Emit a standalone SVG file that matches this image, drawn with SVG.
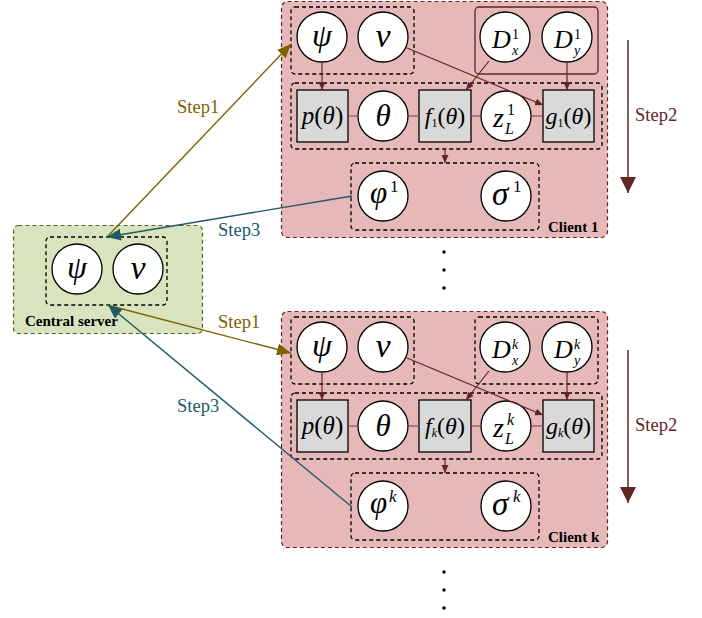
<svg xmlns="http://www.w3.org/2000/svg" width="702" height="618" viewBox="0 0 702 618" font-family="'Liberation Serif', 'Times New Roman', 'DejaVu Serif', serif">
<style>
.client{fill:#e6b9b8;stroke:#632523;stroke-width:1.2;stroke-dasharray:4 3}
.server{fill:#d7e4bd;stroke:#4f6228;stroke-width:1.2;stroke-dasharray:4 3}
.grp{fill:none;stroke:#000;stroke-width:1.3;stroke-dasharray:4 3}
.grps{fill:none;stroke:#632523;stroke-width:1.3}
.c{fill:#fff;stroke:#000;stroke-width:1.3}
.sq{fill:#d9d9d9;stroke:#000;stroke-width:1.3}
.m{font-family:'Liberation Serif','Times New Roman','DejaVu Serif',serif;font-style:italic;fill:#000}
.u{font-style:normal}
.lbl{font-family:'Liberation Serif','Times New Roman','DejaVu Serif',serif;font-weight:bold;font-size:15px;fill:#000}
.st{font-family:'Liberation Serif','Times New Roman','DejaVu Serif',serif;font-size:18.5px}
.link{stroke:#7f3f3f;stroke-width:1.2;fill:none}
.ar{stroke:#632523;stroke-width:1.2;fill:none;marker-end:url(#ah)}
</style>
<defs>
<marker id="ah" markerUnits="userSpaceOnUse" markerWidth="8" markerHeight="8" refX="8" refY="3.5" orient="auto"><path d="M0,0 L8,3.5 L0,7 z" fill="#632523"/></marker>
<marker id="ao" markerUnits="userSpaceOnUse" markerWidth="14" markerHeight="12" refX="14" refY="6" orient="auto"><path d="M0,0 L14,6 L0,12 z" fill="#7f6000"/></marker>
<marker id="at" markerUnits="userSpaceOnUse" markerWidth="14" markerHeight="12" refX="14" refY="6" orient="auto"><path d="M0,0 L14,6 L0,12 z" fill="#215968"/></marker>
<marker id="ar2" markerUnits="userSpaceOnUse" markerWidth="16" markerHeight="16" refX="16" refY="8" orient="auto"><path d="M0,0 L16,8 L0,16 z" fill="#632523"/></marker>
</defs>

<!-- Client 1 -->
<g id="client1">
<rect class="client" x="281.5" y="1.5" width="326" height="236" rx="6"/>
<rect class="grp" x="291" y="7" width="123" height="67" rx="4"/>
<rect class="grps" x="475" y="7" width="123" height="67" rx="4"/>
<rect class="grp" x="291" y="83" width="311" height="66" rx="4"/>
<rect class="grp" x="351" y="163" width="188" height="67" rx="4"/>
<text class="lbl" x="548" y="232">Client 1</text>
</g>
<g id="c1-psi"><circle class="c" cx="322" cy="37" r="25"/><text class="m" x="322" y="46" font-size="32" text-anchor="middle">ψ</text></g>
<g id="c1-nu"><circle class="c" cx="383" cy="37" r="25"/><text class="m" x="383" y="47" font-size="34" text-anchor="middle">ν</text></g>
<g id="c1-dx"><circle class="c" cx="505" cy="37" r="25"/><text class="m" x="492" y="48" font-size="26">D</text><text class="m u" x="512" y="39" font-size="14">1</text><text class="m" x="512" y="55" font-size="14">x</text></g>
<g id="c1-dy"><circle class="c" cx="567" cy="37" r="25"/><text class="m" x="554" y="48" font-size="26">D</text><text class="m u" x="574" y="39" font-size="14">1</text><text class="m" x="574" y="55" font-size="14">y</text></g>
<g id="c1-p"><rect class="sq" x="297" y="90" width="51" height="52"/><text class="m" x="322.5" y="124" font-size="25" text-anchor="middle">p<tspan class="u">(</tspan>θ<tspan class="u">)</tspan></text></g>
<g id="c1-theta"><circle class="c" cx="383" cy="116" r="25"/><text class="m" x="383" y="126" font-size="31" text-anchor="middle">θ</text></g>
<g id="c1-f"><rect class="sq" x="419" y="90" width="52" height="52"/><text class="m" x="445" y="124" font-size="24" text-anchor="middle">f<tspan class="u" font-size="12" dy="3">1</tspan><tspan class="u" dy="-3">(</tspan>θ<tspan class="u">)</tspan></text></g>
<g id="c1-z"><circle class="c" cx="506" cy="116" r="25"/><text class="m" x="493" y="127" font-size="28">z</text><text class="m u" x="507" y="115" font-size="16">1</text><text class="m" x="505" y="134" font-size="16">L</text></g>
<g id="c1-g"><rect class="sq" x="543" y="90" width="51" height="52"/><text class="m" x="568.5" y="124" font-size="24" text-anchor="middle">g<tspan class="u" font-size="12" dy="3">1</tspan><tspan class="u" dy="-3">(</tspan>θ<tspan class="u">)</tspan></text></g>
<g id="c1-phi"><circle class="c" cx="383" cy="196" r="25"/><text class="m" x="370" y="203" font-size="31">φ</text><text class="m u" x="390" y="192" font-size="17">1</text></g>
<g id="c1-sigma"><circle class="c" cx="506" cy="196" r="25"/><text class="m" x="492" y="205" font-size="33">σ</text><text class="m u" x="513" y="192" font-size="17">1</text></g>

<!-- Client k -->
<g id="clientk">
<rect class="client" x="281.5" y="311.5" width="326" height="236" rx="6"/>
<rect class="grp" x="291" y="317" width="123" height="67" rx="4"/>
<rect class="grp" x="475" y="317" width="123" height="67" rx="4"/>
<rect class="grp" x="291" y="393" width="311" height="66" rx="4"/>
<rect class="grp" x="351" y="473" width="188" height="67" rx="4"/>
<text class="lbl" x="548" y="542">Client k</text>
</g>
<g id="ck-psi"><circle class="c" cx="322" cy="347" r="25"/><text class="m" x="322" y="356" font-size="32" text-anchor="middle">ψ</text></g>
<g id="ck-nu"><circle class="c" cx="383" cy="347" r="25"/><text class="m" x="383" y="357" font-size="34" text-anchor="middle">ν</text></g>
<g id="ck-dx"><circle class="c" cx="505" cy="347" r="25"/><text class="m" x="492" y="358" font-size="26">D</text><text class="m" x="512" y="349" font-size="14">k</text><text class="m" x="512" y="365" font-size="14">x</text></g>
<g id="ck-dy"><circle class="c" cx="567" cy="347" r="25"/><text class="m" x="554" y="358" font-size="26">D</text><text class="m" x="574" y="349" font-size="14">k</text><text class="m" x="574" y="365" font-size="14">y</text></g>
<g id="ck-p"><rect class="sq" x="297" y="400" width="51" height="52"/><text class="m" x="322.5" y="434" font-size="25" text-anchor="middle">p<tspan class="u">(</tspan>θ<tspan class="u">)</tspan></text></g>
<g id="ck-theta"><circle class="c" cx="383" cy="426" r="25"/><text class="m" x="383" y="436" font-size="31" text-anchor="middle">θ</text></g>
<g id="ck-f"><rect class="sq" x="419" y="400" width="52" height="52"/><text class="m" x="445" y="434" font-size="24" text-anchor="middle">f<tspan font-size="12" dy="3">k</tspan><tspan class="u" dy="-3">(</tspan>θ<tspan class="u">)</tspan></text></g>
<g id="ck-z"><circle class="c" cx="506" cy="426" r="25"/><text class="m" x="493" y="437" font-size="28">z</text><text class="m" x="507" y="425" font-size="16">k</text><text class="m" x="505" y="444" font-size="16">L</text></g>
<g id="ck-g"><rect class="sq" x="543" y="400" width="51" height="52"/><text class="m" x="568.5" y="434" font-size="24" text-anchor="middle">g<tspan font-size="12" dy="3">k</tspan><tspan class="u" dy="-3">(</tspan>θ<tspan class="u">)</tspan></text></g>
<g id="ck-phi"><circle class="c" cx="383" cy="506" r="25"/><text class="m" x="370" y="513" font-size="31">φ</text><text class="m" x="389" y="502" font-size="17">k</text></g>
<g id="ck-sigma"><circle class="c" cx="506" cy="506" r="25"/><text class="m" x="492" y="515" font-size="33">σ</text><text class="m" x="513" y="502" font-size="17">k</text></g>

<!-- Central server -->
<g id="server">
<rect class="server" x="13.5" y="225.5" width="189" height="108" rx="5"/>
<rect class="grp" x="46" y="237" width="121" height="68" rx="4"/>
<text class="lbl" x="25" y="326">Central server</text>
</g>
<g id="s-psi"><circle class="c" cx="77" cy="269" r="25"/><text class="m" x="77" y="278" font-size="32" text-anchor="middle">ψ</text></g>
<g id="s-nu"><circle class="c" cx="138" cy="269" r="25"/><text class="m" x="138" y="279" font-size="34" text-anchor="middle">ν</text></g>

<!-- Connectors -->
<g id="connectors">
<path class="link" d="M348,116 H358 M408,116 H419 M471,116 H481 M531,116 H543"/>
<path class="link" d="M348,426 H358 M408,426 H419 M471,426 H481 M531,426 H543"/>
<line class="ar" x1="322" y1="62" x2="322" y2="90"/>
<line class="ar" x1="567" y1="62" x2="567" y2="90"/>
<line class="ar" x1="489" y1="61" x2="466" y2="90"/>
<line class="ar" x1="407" y1="48" x2="543" y2="105"/>
<line class="ar" x1="445" y1="149" x2="445" y2="163"/>
<line class="ar" x1="322" y1="372" x2="322" y2="400"/>
<line class="ar" x1="567" y1="372" x2="567" y2="400"/>
<line class="ar" x1="489" y1="371" x2="466" y2="400"/>
<line class="ar" x1="407" y1="358" x2="543" y2="415"/>
<line class="ar" x1="445" y1="459" x2="445" y2="473"/>
<line x1="107" y1="237" x2="291" y2="44" stroke="#7f6000" stroke-width="1.4" marker-end="url(#ao)"/>
<line x1="352" y1="196" x2="107" y2="237" stroke="#215968" stroke-width="1.4" marker-end="url(#at)"/>
<line x1="107" y1="305" x2="291" y2="353" stroke="#7f6000" stroke-width="1.4" marker-end="url(#ao)"/>
<line x1="352" y1="507" x2="108" y2="305" stroke="#215968" stroke-width="1.4" marker-end="url(#at)"/>
<line x1="628" y1="40" x2="628" y2="193" stroke="#632523" stroke-width="1.5" marker-end="url(#ar2)"/>
<line x1="628" y1="350" x2="628" y2="503" stroke="#632523" stroke-width="1.5" marker-end="url(#ar2)"/>
</g>

<text class="st" x="177" y="113" fill="#7f6000">Step1</text>
<text class="st" x="218" y="236" fill="#215968">Step3</text>
<text class="st" x="218" y="328" fill="#7f6000">Step1</text>
<text class="st" x="177" y="412" fill="#215968">Step3</text>
<text class="st" x="635" y="121" fill="#632523">Step2</text>
<text class="st" x="635" y="431" fill="#632523">Step2</text>

<g fill="#000">
<circle cx="444" cy="252" r="1.7"/><circle cx="444" cy="270" r="1.7"/><circle cx="444" cy="288" r="1.7"/>
<circle cx="444" cy="572" r="1.7"/><circle cx="444" cy="590" r="1.7"/><circle cx="444" cy="608" r="1.7"/>
</g>
</svg>
